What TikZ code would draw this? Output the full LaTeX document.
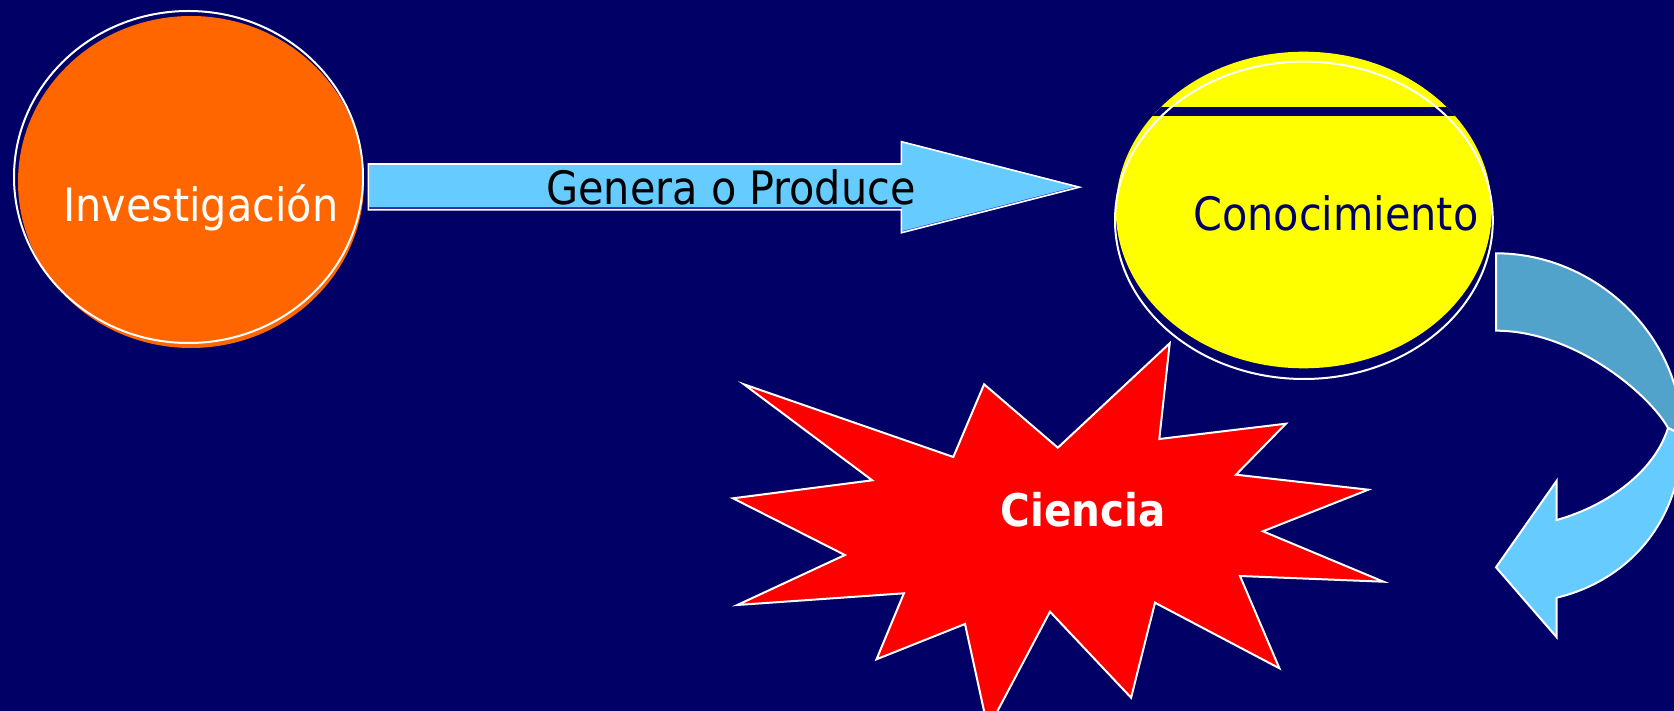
\documentclass[tikz,border=0pt]{standalone}
\usepackage{fontspec}
\setmainfont{DejaVu Sans Condensed}
\usetikzlibrary{shapes.geometric}
\definecolor{bgnavy}{HTML}{000066}
\definecolor{orangec}{HTML}{FF6600}
\definecolor{yellowc}{HTML}{FFFF00}
\definecolor{lightblue}{HTML}{66CCFF}
\definecolor{darkband}{HTML}{52A3CC}
\definecolor{shadowblue}{HTML}{3333CC}
\definecolor{redc}{HTML}{FF0000}
\tikzset{
  outline/.style={draw=white, line width=2pt, line join=miter},
  lbl/.style={inner sep=0pt, anchor=base, font=\fontsize{46}{55}\selectfont},
  shape fill/.style={inner sep=0pt, ellipse}
}
\begin{document}
\begin{tikzpicture}[x=1pt,y=-1pt]
\fill[bgnavy] (0,0) rectangle (1674,711);
\useasboundingbox (0,0) rectangle (1674,711);
\begin{scope}
\clip (0,0) rectangle (1674,711);
% Investigacion
\node[shape fill, fill=orangec, minimum width=346pt, minimum height=332pt] (invfill) at (191,182) {};
\node[shape fill, outline, minimum width=349pt, minimum height=332pt] (inv) at (188.5,177) {};
\node[lbl, text=white] (invtxt) at (200.8,221.7) {Investigación};
% Conocimiento
\node[shape fill, fill=yellowc, minimum width=376pt, minimum height=316.6pt] (conofill) at (1303.8,210) {};
\begin{scope}
\clip (1303.8,210) ellipse [x radius=188, y radius=158.3];
\fill[bgnavy] (1100,106.7) rectangle (1500,116);
\end{scope}
\node[shape fill, outline, minimum width=377.8pt, minimum height=317.4pt] (cono) at (1303.9,220.3) {};
\node[lbl, text=bgnavy] (conotxt) at (1336,230.7) {Conocimiento};
% straight arrow
\fill[shadowblue] (368.4,165) -- (901.4,165) -- (901.4,142.7) -- (1079.3,187.7) -- (901.4,233.7) -- (901.4,208.3) -- (368.4,208.3) -- cycle;
\fill[lightblue] (368.4,163.5) -- (901.4,163.5) -- (901.4,141.2) -- (1077.3,186.2) -- (901.4,231.2) -- (901.4,206.8) -- (368.4,206.8) -- cycle;
\draw[outline, line width=1.6pt] (368.4,164) -- (901.4,164) -- (901.4,141.7) -- (1079.3,187.2) -- (901.4,232.7) -- (901.4,209.8) -- (368.4,209.8) -- cycle;
\node[lbl, text=black] (gentxt) at (731,205) {Genera o Produce};
% star
\draw[outline, fill=redc] (743.9,384.3) -- (953.3,457.0) -- (984.1,384.3) -- (1057.8,447.7)
  -- (1169.7,343.3) -- (1159.3,439.0) -- (1285.9,423.7) -- (1236.0,474.7)
  -- (1368.3,489.7) -- (1262.9,531.3) -- (1383.5,581.7) -- (1240.0,576.0)
  -- (1279.4,668.3) -- (1155.0,602.7) -- (1131.1,697.7) -- (1050.0,611.7)
  -- (988,729) -- (965.0,624.0) -- (876.5,659.3) -- (903.9,593.3)
  -- (737.3,605.0) -- (844.9,555.0) -- (733.0,498.3) -- (872.2,480.3) -- cycle;
\node[lbl, text=white, font=\fontsize{45}{54}\selectfont\bfseries] (cientxt) at (1083.4,526) {Ciencia};
% curved arrow: back band
\draw[outline, fill=darkband] (1496,253.3) .. controls (1595,253.3) and (1682,335) .. (1682,435)
  -- (1668,428) .. controls (1650,395) and (1575,330.7) .. (1496,330.7) -- cycle;
% curved arrow: front band with head
\draw[outline, fill=lightblue] (1668,428) .. controls (1655,470) and (1610,505) .. (1556.7,520)
  -- (1556.7,480.7) -- (1496,567.3) -- (1556.7,637.3) -- (1556.7,597.7)
  .. controls (1630,580) and (1682,520) .. (1682,435) -- cycle;
\end{scope}
\end{tikzpicture}
\end{document}
